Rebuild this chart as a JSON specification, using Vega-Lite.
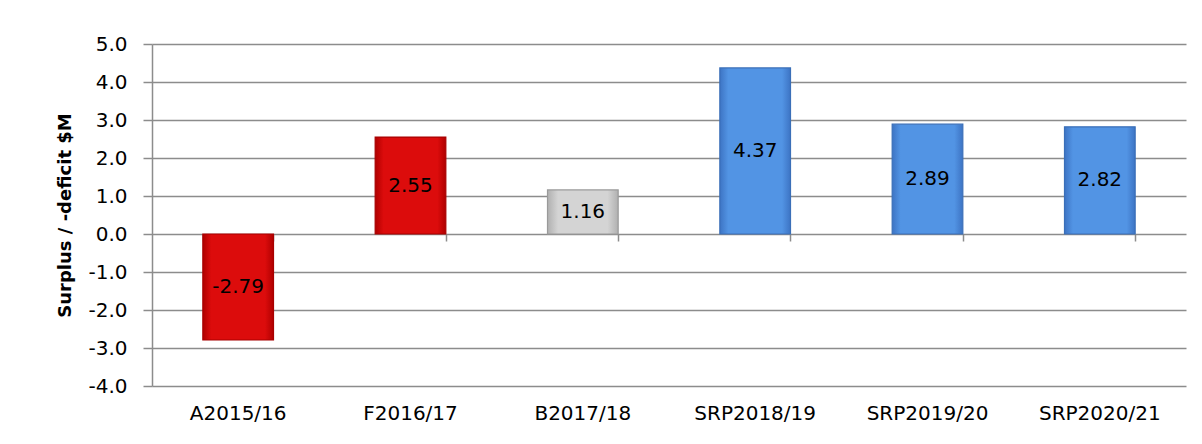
{
  "$schema": "https://vega.github.io/schema/vega-lite/v6.json",
  "width": 1034,
  "height": 342,
  "autosize": {"type": "none"},
  "padding": {"left": 152, "top": 44, "right": 16, "bottom": 58},
  "background": "white",
  "config": {
    "view": {"stroke": null},
    "font": "DejaVu Sans",
    "locale": {"number": {"decimal": ".", "thousands": ",", "grouping": [3], "currency": ["$", ""], "minus": "-"}}
  },
  "data": {
    "values": [
      {"period": "A2015/16", "value": -2.79, "group": "Actual"},
      {"period": "F2016/17", "value": 2.55, "group": "Forecast"},
      {"period": "B2017/18", "value": 1.16, "group": "Budget"},
      {"period": "SRP2018/19", "value": 4.37, "group": "SRP"},
      {"period": "SRP2019/20", "value": 2.89, "group": "SRP"},
      {"period": "SRP2020/21", "value": 2.82, "group": "SRP"}
    ]
  },
  "resolve": {"axis": {"x": "independent", "y": "independent"}},
  "layer": [
    {
      "mark": {"type": "bar", "strokeWidth": 1.2},
      "encoding": {
        "x": {
          "field": "period", "type": "nominal", "sort": null,
          "scale": {"paddingInner": 0.59, "paddingOuter": 0.295},
          "axis": {
            "orient": "bottom", "title": null, "domain": false, "ticks": false, "grid": false,
            "labelAngle": 0, "labelFontSize": 20, "labelColor": "black", "labelPadding": 17
          }
        },
        "y": {
          "field": "value", "type": "quantitative",
          "scale": {"domain": [-4, 5], "nice": false, "zero": false},
          "axis": {
            "title": "Surplus / -deficit $M", "titleFontSize": 18, "titleFontWeight": "bold",
            "titleColor": "black", "titlePadding": 13,
            "labelFontSize": 20, "labelColor": "black", "labelPadding": 16, "labelOverlap": false,
            "format": ".1f", "values": [-4, -3, -2, -1, 0, 1, 2, 3, 4, 5],
            "grid": true, "gridColor": "#8c8c8c", "gridWidth": 1.5,
            "domainColor": "#8c8c8c", "domainWidth": 1.5,
            "tickColor": "#8c8c8c", "tickSize": 9, "tickWidth": 1.5
          }
        },
        "fill": {
          "condition": [
            {
              "test": "datum.group === 'SRP'",
              "value": {"gradient": "linear", "x1": 0, "x2": 1, "y1": 0, "y2": 0,
                "stops": [{"offset": 0, "color": "#3d74c4"}, {"offset": 0.12, "color": "#5294e4"}, {"offset": 0.88, "color": "#5294e4"}, {"offset": 1, "color": "#3d74c4"}]}
            },
            {
              "test": "datum.group === 'Budget'",
              "value": {"gradient": "linear", "x1": 0, "x2": 1, "y1": 0, "y2": 0,
                "stops": [{"offset": 0, "color": "#b0b0b0"}, {"offset": 0.15, "color": "#d4d4d4"}, {"offset": 0.85, "color": "#d4d4d4"}, {"offset": 1, "color": "#b0b0b0"}]}
            }
          ],
          "value": {"gradient": "linear", "x1": 0, "x2": 1, "y1": 0, "y2": 0,
            "stops": [{"offset": 0, "color": "#b00000"}, {"offset": 0.12, "color": "#dc0c0c"}, {"offset": 0.88, "color": "#dc0c0c"}, {"offset": 1, "color": "#b00000"}]}
        },
        "stroke": {
          "field": "group", "type": "nominal", "legend": null,
          "scale": {"domain": ["Actual", "Forecast", "Budget", "SRP"], "range": ["#a80000", "#a80000", "#9a9a9a", "#3a6fb8"]}
        }
      }
    },
    {
      "transform": [{"calculate": "datum.value / 2", "as": "mid"}],
      "mark": {"type": "text", "fontSize": 20, "color": "black"},
      "encoding": {
        "x": {
          "field": "period", "type": "nominal", "sort": null,
          "axis": {
            "orient": "top", "offset": -190, "title": null, "labels": false, "domain": false,
            "grid": false, "ticks": true, "tickBand": "extent", "tickSize": -7,
            "tickColor": "#8c8c8c", "tickWidth": 1.5
          }
        },
        "y": {"field": "mid", "type": "quantitative", "axis": null},
        "text": {"field": "value", "type": "quantitative", "format": ".2f"}
      }
    }
  ]
}
